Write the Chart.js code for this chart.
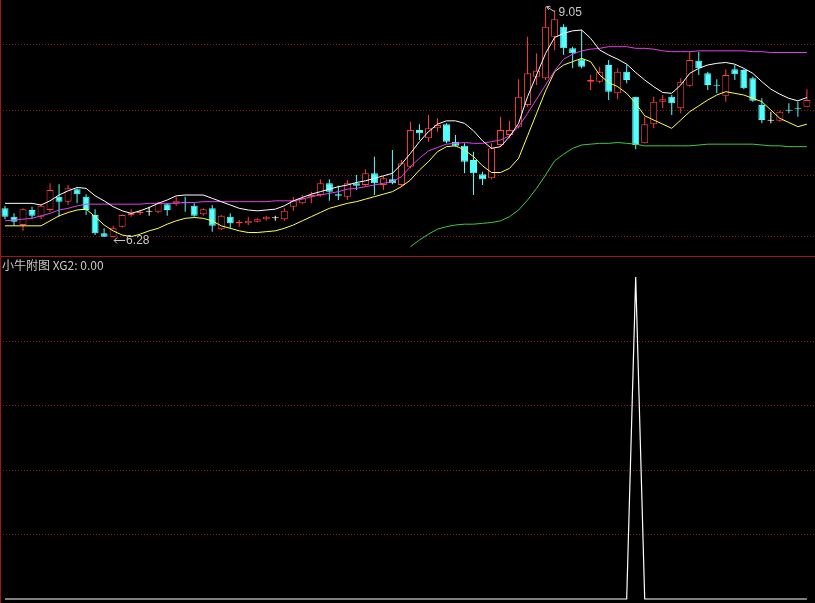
<!DOCTYPE html>
<html>
<head>
<meta charset="utf-8">
<title>小牛附图</title>
<script src="https://cdn.jsdelivr.net/npm/chart.js@4.4.1/dist/chart.umd.min.js"></script>
<style>
    html, body { margin: 0; padding: 0; background: #000; }
    body { width: 815px; height: 603px; position: relative; overflow: hidden; }
    #mainBox { position: absolute; left: 0; top: 0; width: 815px; height: 256px; }
    #subBox { position: absolute; left: 0; top: 257px; width: 815px; height: 346px; }
    .sep { position: absolute; left: 0; top: 256px; width: 815px; height: 1px; background: #a01414; }
    .leftEdge { position: absolute; left: 0; top: 0; width: 1px; height: 603px; background: #a01414; }
    #subTitle { position: absolute; left: 2px; top: 257px; font: 12px "Noto Sans CJK SC", sans-serif;
                color: #c8c8c8; line-height: 16px; white-space: nowrap; }
</style>
</head>
<body>
<div id="mainBox"><canvas id="mainChart"></canvas></div>
<div class="sep"></div>
<div id="subBox"><canvas id="subChart"></canvas></div>
<div class="leftEdge"></div>
<div id="subTitle">小牛附图 XG2: 0.00</div>

<script>
    // daily candles
    const openP = [6.63, 6.53, 6.43, 6.61, 6.53, 6.61, 6.77, 6.71, 6.86, 6.77,
        6.55, 6.33, 6.29, 6.41, 6.55, 6.57, 6.59, 6.59, 6.68, 6.69,
        6.71, 6.66, 6.56, 6.63, 6.38, 6.53, 6.45, 6.45, 6.47, 6.50,
        6.51, 6.50, 6.65, 6.69, 6.77, 6.79, 6.93, 6.80, 6.77, 6.93,
        6.91, 7.05, 6.91, 6.98, 6.91, 7.13, 7.57, 7.47, 7.59, 7.64,
        7.43, 7.38, 7.21, 7.04, 6.99, 7.39, 7.51, 7.61, 7.87, 8.21,
        8.19, 8.69, 8.81, 8.55, 8.42, 8.15, 8.15, 8.35, 8.01, 8.27,
        7.97, 7.41, 7.64, 7.91, 7.97, 7.83, 8.10, 8.40, 8.25, 8.11,
        7.98, 8.30, 8.29, 8.19, 7.87, 7.68, 7.68, 7.81, 7.83, 7.85];
    const closeP = [6.53, 6.47, 6.62, 6.54, 6.66, 6.85, 6.71, 6.87, 6.80, 6.61,
        6.33, 6.29, 6.39, 6.55, 6.57, 6.59, 6.59, 6.69, 6.61, 6.72,
        6.69, 6.54, 6.62, 6.42, 6.54, 6.45, 6.47, 6.48, 6.50, 6.53,
        6.51, 6.60, 6.72, 6.75, 6.79, 6.93, 6.83, 6.78, 6.93, 6.90,
        7.05, 6.93, 6.99, 6.93, 7.17, 7.57, 7.53, 7.59, 7.63, 7.43,
        7.38, 7.19, 7.05, 6.98, 7.35, 7.57, 7.57, 7.97, 8.25, 8.28,
        8.81, 8.90, 8.55, 8.49, 8.33, 8.17, 8.27, 8.03, 8.27, 8.17,
        7.39, 7.64, 7.91, 7.94, 7.89, 8.15, 8.41, 8.31, 8.11, 8.10,
        8.23, 8.24, 8.07, 7.92, 7.69, 7.68, 7.79, 7.80, 7.82, 7.93];
    const highP = [6.66, 6.57, 6.63, 6.65, 6.68, 6.93, 6.92, 6.91, 6.87, 6.80,
        6.62, 6.39, 6.42, 6.56, 6.62, 6.61, 6.65, 6.71, 6.69, 6.77,
        6.77, 6.69, 6.63, 6.67, 6.55, 6.57, 6.49, 6.53, 6.51, 6.54,
        6.54, 6.63, 6.77, 6.79, 6.83, 6.98, 6.98, 6.90, 6.97, 7.03,
        7.10, 7.25, 7.02, 7.33, 7.21, 7.67, 7.64, 7.75, 7.71, 7.65,
        7.51, 7.41, 7.31, 7.07, 7.41, 7.73, 7.68, 8.18, 8.69, 8.49,
        9.05, 9.01, 8.84, 8.57, 8.77, 8.23, 8.33, 8.41, 8.31, 8.36,
        7.97, 7.73, 7.97, 7.99, 7.99, 8.19, 8.51, 8.51, 8.27, 8.18,
        8.30, 8.35, 8.30, 8.21, 7.95, 7.79, 7.80, 7.89, 7.91, 8.06];
    const lowP = [6.50, 6.42, 6.36, 6.51, 6.50, 6.59, 6.53, 6.67, 6.69, 6.55,
        6.31, 6.29, 6.28, 6.40, 6.53, 6.55, 6.54, 6.57, 6.54, 6.66,
        6.59, 6.53, 6.54, 6.35, 6.37, 6.39, 6.41, 6.43, 6.46, 6.48,
        6.48, 6.48, 6.60, 6.68, 6.69, 6.77, 6.72, 6.73, 6.73, 6.85,
        6.89, 6.79, 6.85, 6.92, 6.89, 7.11, 7.45, 7.43, 7.55, 7.41,
        7.37, 7.05, 6.79, 6.91, 6.98, 7.37, 7.47, 7.59, 7.85, 8.11,
        8.17, 8.53, 8.47, 8.31, 8.31, 8.05, 8.13, 7.93, 7.94, 8.13,
        7.34, 7.41, 7.59, 7.83, 7.75, 7.77, 8.09, 8.23, 8.05, 8.01,
        7.91, 8.17, 8.06, 7.91, 7.65, 7.65, 7.67, 7.77, 7.73, 7.85];

    // indicator lines on the main panel
    const whiteLine = [6.69, 6.69, 6.69, 6.69, 6.67, 6.72, 6.79, 6.84, 6.88, 6.87,
        6.78, 6.72, 6.65, 6.60, 6.57, 6.60, 6.64, 6.69, 6.73, 6.78,
        6.79, 6.79, 6.79, 6.75, 6.71, 6.67, 6.63, 6.61, 6.60, 6.61,
        6.62, 6.66, 6.72, 6.76, 6.80, 6.83, 6.86, 6.89, 6.91, 6.94,
        6.96, 6.99, 7.02, 7.05, 7.16, 7.29, 7.43, 7.55, 7.64, 7.68,
        7.68, 7.65, 7.56, 7.44, 7.35, 7.37, 7.49, 7.65, 7.97, 8.23,
        8.49, 8.68, 8.73, 8.76, 8.77, 8.67, 8.53, 8.47, 8.42, 8.36,
        8.26, 8.17, 8.09, 8.02, 8.01, 8.11, 8.25, 8.31, 8.35, 8.37,
        8.38, 8.36, 8.31, 8.25, 8.15, 8.06, 8.00, 7.95, 7.92, 7.96];
    const pinkLine = [6.48, 6.49, 6.50, 6.51, 6.54, 6.57, 6.61, 6.63, 6.66, 6.68,
        6.68, 6.68, 6.68, 6.68, 6.68, 6.68, 6.69, 6.69, 6.69, 6.69,
        6.70, 6.70, 6.71, 6.71, 6.71, 6.71, 6.71, 6.71, 6.71, 6.71,
        6.72, 6.72, 6.72, 6.74, 6.77, 6.79, 6.81, 6.83, 6.86, 6.87,
        6.89, 6.91, 6.93, 6.95, 7.01, 7.13, 7.23, 7.32, 7.36, 7.40,
        7.41, 7.42, 7.41, 7.41, 7.43, 7.45, 7.50, 7.61, 7.77, 7.94,
        8.11, 8.28, 8.42, 8.48, 8.52, 8.54, 8.55, 8.57, 8.57, 8.57,
        8.55, 8.55, 8.54, 8.52, 8.51, 8.51, 8.51, 8.52, 8.52, 8.52,
        8.52, 8.52, 8.52, 8.51, 8.51, 8.50, 8.50, 8.50, 8.50, 8.50];
    const yellowLine = [6.42, 6.42, 6.42, 6.42, 6.42, 6.48, 6.54, 6.58, 6.61, 6.62,
        6.53, 6.43, 6.36, 6.31, 6.29, 6.32, 6.36, 6.39, 6.44, 6.48,
        6.51, 6.52, 6.51, 6.48, 6.42, 6.39, 6.36, 6.34, 6.34, 6.35,
        6.36, 6.39, 6.43, 6.48, 6.53, 6.58, 6.63, 6.66, 6.69, 6.71,
        6.74, 6.77, 6.80, 6.83, 6.89, 6.97, 7.09, 7.19, 7.31, 7.37,
        7.38, 7.33, 7.25, 7.14, 7.06, 7.06, 7.11, 7.23, 7.50, 7.77,
        8.04, 8.27, 8.35, 8.39, 8.43, 8.39, 8.23, 8.14, 8.09, 8.01,
        7.89, 7.74, 7.69, 7.64, 7.59, 7.69, 7.79, 7.86, 7.93, 7.99,
        8.03, 8.01, 7.99, 7.95, 7.91, 7.81, 7.71, 7.66, 7.61, 7.64];
    // green line only starts at bar 45
    const greenLine = Array(45).fill(null).concat([
        6.17, 6.25, 6.32, 6.38, 6.41, 6.43, 6.44, 6.44, 6.45, 6.46,
        6.48, 6.53, 6.61, 6.73, 6.87, 7.03, 7.20, 7.28, 7.35, 7.39,
        7.40, 7.41, 7.41, 7.42, 7.41, 7.40, 7.38, 7.38, 7.38, 7.38,
        7.38, 7.38, 7.39, 7.40, 7.40, 7.40, 7.40, 7.40, 7.40, 7.39,
        7.38, 7.38, 7.37, 7.37, 7.37]);

    // sub panel XG2 signal
    const xg2 = [0, 0, 0, 0, 0, 0, 0, 0, 0, 0,
        0, 0, 0, 0, 0, 0, 0, 0, 0, 0,
        0, 0, 0, 0, 0, 0, 0, 0, 0, 0,
        0, 0, 0, 0, 0, 0, 0, 0, 0, 0,
        0, 0, 0, 0, 0, 0, 0, 0, 0, 0,
        0, 0, 0, 0, 0, 0, 0, 0, 0, 0,
        0, 0, 0, 0, 0, 0, 0, 0, 0, 0,
        1, 0, 0, 0, 0, 0, 0, 0, 0, 0,
        0, 0, 0, 0, 0, 0, 0, 0, 0, 0];

    // horizontal dotted grid levels
    const mainGrid = [8.60, 7.81, 7.02, 6.29];
    const subGrid = [0.2, 0.4, 0.6, 0.8];

    const UP = '#ff4040', DOWN = '#54ffff', FLAT = '#ffffff';
    const candleColor = i => closeP[i] > openP[i] ? UP : (closeP[i] < openP[i] ? DOWN : FLAT);
    const candleFill = i => closeP[i] > openP[i] ? '#000000' : candleColor(i);

    // bar charts get offset:true by default, switch it off so both panels line up
    const xAxis = {type: 'linear', min: -0.555, max: 89.9, offset: false, display: false};

    function gridAxis(min, max, levels) {
        return {
            min: min, max: max,
            ticks: {display: false},
            grid: {color: '#8c1a1a', drawTicks: false, lineWidth: 1},
            border: {display: false, dash: [1, 2]},
            afterBuildTicks: s => { s.ticks = levels.map(v => ({value: v})); },
            afterFit: s => { s.width = 0; }
        };
    }

    function lineSet(data, color) {
        return {type: 'line', data: data.map((v, i) => ({x: i, y: v})), borderColor: color,
            borderWidth: 1, pointRadius: 0, fill: false, tension: 0, order: 1};
    }

    // mark the highest high and the lowest low
    const extremes = {
        id: 'extremes',
        afterDatasetsDraw(chart) {
            const ctx = chart.ctx, x = chart.scales.x, y = chart.scales.y;
            const hi = Math.max(...highP), lo = Math.min(...lowP);
            const hx = x.getPixelForValue(highP.indexOf(hi)), hy = y.getPixelForValue(hi);
            const lx = x.getPixelForValue(lowP.indexOf(lo)), ly = y.getPixelForValue(lo);
            ctx.save();
            ctx.strokeStyle = ctx.fillStyle = '#c8c8c8';
            ctx.lineWidth = 1;
            ctx.font = '12px "Liberation Sans", Arial, sans-serif';
            ctx.textBaseline = 'middle';
            ctx.beginPath();
            ctx.moveTo(hx + 9, hy + 5); ctx.lineTo(hx + 1, hy);
            ctx.moveTo(hx + 1, hy); ctx.lineTo(hx + 5, hy);
            ctx.moveTo(hx + 1, hy); ctx.lineTo(hx + 3, hy + 3);
            ctx.moveTo(lx + 1, ly + 3); ctx.lineTo(lx + 12, ly + 3);
            ctx.moveTo(lx + 1, ly + 3); ctx.lineTo(lx + 4, ly);
            ctx.moveTo(lx + 1, ly + 3); ctx.lineTo(lx + 4, ly + 6);
            ctx.stroke();
            ctx.fillText(hi.toFixed(2), hx + 13, hy + 6);
            ctx.fillText(lo.toFixed(2), lx + 13, ly + 3.5);
            ctx.restore();
        }
    };

    const mainCtx = document.getElementById('mainChart').getContext('2d');
    const mainChart = new Chart(mainCtx, {
        type: 'bar',
        data: {
            datasets: [
                lineSet(whiteLine, '#ffffff'),
                lineSet(pinkLine, '#e040e8'),
                lineSet(yellowLine, '#ffff50'),
                lineSet(greenLine, '#40c840'),
                {
                    // candle bodies
                    data: openP.map((o, i) => ({x: i, y: [o, closeP[i]]})),
                    backgroundColor: openP.map((o, i) => candleFill(i)),
                    borderColor: openP.map((o, i) => candleColor(i)),
                    borderWidth: 1, borderSkipped: false, barThickness: 7, minBarLength: 1,
                    inflateAmount: 0, grouped: false, order: 2
                },
                {
                    // wicks
                    data: lowP.map((l, i) => ({x: i, y: [l, highP[i]]})),
                    backgroundColor: lowP.map((l, i) => candleColor(i)),
                    borderWidth: 0, barThickness: 1, inflateAmount: 0, grouped: false, order: 3
                }
            ]
        },
        options: {
            responsive: true,
            maintainAspectRatio: false,
            animation: false,
            layout: {padding: 0},
            plugins: {legend: {display: false}, tooltip: {enabled: false}},
            scales: {x: xAxis, y: gridAxis(6.058, 9.13, mainGrid)}
        },
        plugins: [extremes]
    });

    const subCtx = document.getElementById('subChart').getContext('2d');
    const subChart = new Chart(subCtx, {
        type: 'line',
        data: {
            datasets: [{
                data: xg2.map((v, i) => ({x: i, y: v})),
                borderColor: '#ffffff', borderWidth: 1.2, pointRadius: 0, tension: 0, fill: false
            }]
        },
        options: {
            responsive: true,
            maintainAspectRatio: false,
            animation: false,
            layout: {padding: 0},
            plugins: {legend: {display: false}, tooltip: {enabled: false}},
            scales: {x: xAxis, y: gridAxis(-0.0124, 1.0621, subGrid)}
        }
    });
</script>
</body>
</html>
